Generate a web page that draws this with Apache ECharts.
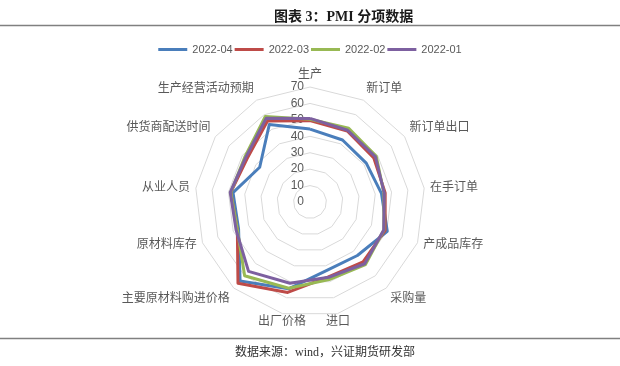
<!DOCTYPE html>
<html>
<head>
<meta charset="utf-8">
<script src="https://cdn.jsdelivr.net/npm/echarts@6/dist/echarts.min.js"></script>
<style>html,body{margin:0;padding:0;background:#fff;}#c{width:620px;height:366px;}</style>
</head>
<body>
<div id="c"></div>
<script>
const indicators = ['生产','新订单','新订单出口','在手订单','产成品库存','采购量','进口','出厂价格','主要原材料购进价格','原材料库存','从业人员','供货商配送时间','生产经营活动预期'];
const seriesNames = ['2022-04','2022-03','2022-02','2022-01'];
const v202204 = [44.4, 42.6, 41.6, 43.8, 50.3, 43.5, 42.9, 54.4, 64.2, 46.5, 47.2, 37.2, 53.3];
const v202203 = [49.5, 48.8, 47.2, 46.1, 48.9, 48.7, 46.9, 56.7, 66.1, 47.3, 48.6, 46.5, 55.7];
const v202202 = [50.4, 50.7, 49.0, 45.3, 48.1, 50.9, 48.6, 54.1, 60.0, 47.3, 48.6, 48.2, 58.7];
const v202201 = [50.9, 49.3, 48.4, 45.5, 48.0, 50.2, 47.2, 50.9, 56.4, 48.1, 48.9, 47.6, 57.5];
const axisMax = 70;
const colors = ['#4A7EBB','#BE4B48','#98B954','#7D60A0'];

// name placement tweaks per axis (by original index)
const nameStyles = {
  1:{verticalAlign:'bottom'}, 2:{verticalAlign:'bottom'},
  11:{verticalAlign:'bottom'}, 12:{verticalAlign:'bottom'},
  5:{verticalAlign:'top'}, 8:{verticalAlign:'top'},
  6:{align:'center', verticalAlign:'top'}, 7:{align:'center', verticalAlign:'top'}
};
const nameGaps = {6:2, 7:2};

// ECharts radar runs counter-clockwise; reorder (keeping the first) so axes run clockwise like the original
function cw(arr){ return [arr[0]].concat(arr.slice(1).reverse()); }
const values = [v202204, v202203, v202202, v202201].map(cw);
const idxOrdered = cw(indicators.map((_,i)=>i));

const chart = echarts.init(document.getElementById('c'), null, {renderer:'canvas'});
const cjk = '"Liberation Sans","Noto Sans CJK SC",sans-serif';
chart.setOption({
  animation:false,
  color: colors,
  title:{
    text:'图表 3：PMI 分项数据',
    left:269, top:5,
    textStyle:{fontSize:14, fontWeight:'bold', color:'#1a1a1a', fontFamily:'"Liberation Serif","Noto Sans CJK SC",serif'}
  },
  legend:{
    data: seriesNames,
    top:39, left:'center',
    icon:'rect', itemWidth:29, itemHeight:3, itemGap:2,
    selectedMode:false,
    textStyle:{fontSize:11, color:'#595959', fontFamily:cjk}
  },
  radar:{
    center:[310,202], radius:115,
    startAngle:90, shape:'polygon',
    splitNumber:7,
    nameGap:6,
    axisName:{color:'#595959', fontSize:12, fontFamily:cjk},
    axisLine:{show:false},
    axisTick:{show:false},
    axisLabel:{show:false},
    splitArea:{show:false},
    splitLine:{lineStyle:{color:'#D9D9D9', width:1}},
    indicator: idxOrdered.map((k,i)=>{
      const o = {name:indicators[k], min:0, max:axisMax};
      if(nameStyles[k]) o.nameTextStyle = Object.assign({}, nameStyles[k]);
      if(nameGaps[k] != null) o.nameGap = nameGaps[k];
      if(i===0){ o.axisLabel = {show:true, color:'#595959', fontSize:12, fontFamily:cjk, margin:6, showMinLabel:true, showMaxLabel:true}; }
      return o;
    })
  },
  series:[{
    type:'radar',
    symbol:'none',
    lineStyle:{width:3},
    data: seriesNames.map((n,i)=>({name:n, value:values[i], lineStyle:{color:colors[i], width:3}, itemStyle:{color:colors[i]}}))
  }],
  graphic:[
    {type:'line', shape:{x1:0,y1:25.5,x2:620,y2:25.5}, style:{stroke:'#808080', lineWidth:1.5}},
    {type:'line', shape:{x1:0,y1:338.5,x2:620,y2:338.5}, style:{stroke:'#808080', lineWidth:1.5}},
    {type:'text', left:235, top:347, style:{text:'数据来源：wind，兴证期货研发部', fontSize:12, fill:'#333', fontFamily:'"Liberation Serif","Noto Sans CJK SC",serif'}}
  ]
});
</script>
</body>
</html>
